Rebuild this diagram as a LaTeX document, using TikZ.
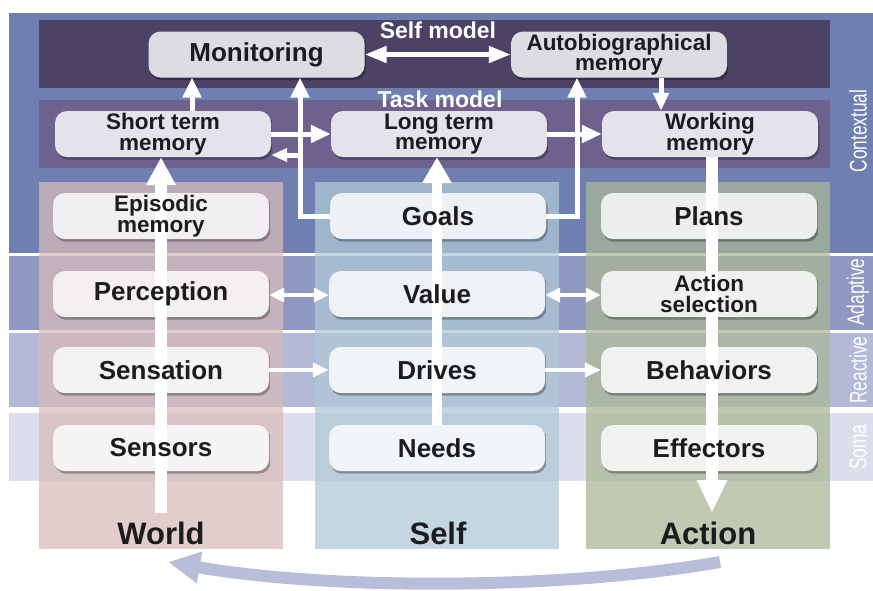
\documentclass[tikz,border=0pt]{standalone}
\usepackage{fontspec}
\setmainfont{Liberation Sans}
\usepackage{graphicx}
\usetikzlibrary{arrows.meta}
\definecolor{ctxc}{RGB}{111,127,177}
\definecolor{selfm}{RGB}{76,66,102}
\definecolor{taskm}{RGB}{109,98,142}
\definecolor{adap}{RGB}{143,152,192}
\definecolor{reac}{RGB}{180,185,215}
\definecolor{soma}{RGB}{220,223,235}
\definecolor{worldc}{RGB}{214,187,186}
\definecolor{selfc}{RGB}{175,200,213}
\definecolor{actc}{RGB}{170,183,151}
\definecolor{txt}{RGB}{28,28,30}
\definecolor{loopc}{RGB}{184,190,218}
\pgfdeclarelayer{bg}
\pgfdeclarelayer{mid}
\pgfsetlayers{bg,mid,main}
\newcommand\boxshade[1]{%
  \begin{scope}
    \clip[rounded corners=12pt] ([shift={(1.5,2.5)}]#1.south west) rectangle ([shift={(1.5,2.5)}]#1.north east);
    \fill[black,opacity=0.3,even odd rule,rounded corners=12pt]
      ([shift={(1.5,2.5)}]#1.south west) rectangle ([shift={(1.5,2.5)}]#1.north east)
      (#1.south west) rectangle (#1.north east);
  \end{scope}}
\begin{document}
\begin{tikzpicture}[x=1pt,y=-1pt,
  box/.style={rounded corners=12pt, minimum width=216pt, minimum height=46pt,
    inner sep=0pt, fill=white, fill opacity=0.82, text opacity=1, text=txt,
    font=\bfseries\fontsize{26}{26}\selectfont, align=center},
  two/.style={font=\bfseries\fontsize{22.5}{20.5}\selectfont},
  bandlabel/.style={rotate=90, text=white, font=\fontsize{24}{24}\selectfont, inner sep=0pt},
  modellabel/.style={text=white, font=\bfseries\fontsize{23}{23}\selectfont, inner sep=0pt},
  biglabel/.style={font=\bfseries\fontsize{31}{31}\selectfont, inner sep=0pt},
  wline/.style={draw=white, line width=5pt},
  thinline/.style={draw=white, line width=4pt},
]
\useasboundingbox (0,0) rectangle (873,590);
\begin{pgfonlayer}{bg}
  % bands
  \fill[ctxc] (9,13) rectangle (873,253);
  \fill[adap] (9,256) rectangle (873,330);
  \fill[reac] (9,333) rectangle (873,407);
  \fill[soma] (9,413) rectangle (873,481);
  \fill[selfm] (39,20) rectangle (830,88);
  \fill[taskm] (39,100) rectangle (830,168);
  % columns
  \fill[worldc, opacity=0.74] (39,182) rectangle (283,549);
  \fill[selfc, opacity=0.74] (315,182) rectangle (559,549);
  \fill[actc, opacity=0.74] (586,182) rectangle (830,549);
\end{pgfonlayer}

% boxes
\node[box] (mon) at (256.5,54.5) {Monitoring};
\node[box,two] (auto) at (619,54.5) {Autobiographical\\memory};
\node[box,two] (stm) at (163,134) {Short term\\memory};
\node[box,two] (ltm) at (439,134) {Long term\\memory};
\node[box,two] (wm) at (710,134) {Working\\memory};
\node[box,two] (epi) at (161,216) {Episodic\\memory};
\node[box] (goals) at (438,216) {Goals};
\node[box] (plans) at (709,216) {Plans};
\node[box] (perc) at (161,294) {Perception};
\node[box] (value) at (437,294) {Value};
\node[box,two] (asel) at (709,294) {Action\\selection};
\node[box] (sensa) at (161,370) {Sensation};
\node[box] (drives) at (437,370) {Drives};
\node[box] (behav) at (709,370) {Behaviors};
\node[box] (sensors) at (161,448) {Sensors};
\node[box] (needs) at (437,448) {Needs};
\node[box] (effect) at (709,448) {Effectors};

% free ends
\coordinate (wbot) at (161,513);
\coordinate (abot) at (712,513);
\coordinate (loopstart) at (720,562);
\coordinate (looptip) at (168,562);
\coordinate (goalup) at (300,216);
\coordinate (goalup2) at (577,216);
\coordinate (stmlow) at ([yshift=-21pt]stm.east);

\begin{pgfonlayer}{mid}
  \foreach \n in {mon,auto,stm,ltm,wm,epi,goals,plans,perc,value,asel,sensa,drives,behav,sensors,needs,effect}{\boxshade{\n}}
  % big vertical arrows
  \draw[white, line width=12pt, -{Triangle[width=28pt,length=28pt]}] (wbot) -- (wbot |- stm.south);
  \draw[white, line width=10pt, -{Triangle[width=28pt,length=26pt]}] (needs.north) -- (needs.north |- ltm.south);
  \draw[white, line width=12pt, -{Triangle[width=28pt,length=33pt]}] (wm.south -| abot) -- (abot);
  % top connectors
  \draw[wline, {Triangle[width=16pt,length=22pt]}-{Triangle[width=16pt,length=22pt]}] (mon.east) -- (auto.west);
  \draw[wline, -{Triangle[width=18pt,length=20pt]}] ([xshift=29pt]stm.north) -- ([xshift=29pt]stm.north |- mon.south);
  \draw[wline, -{Triangle[width=17pt,length=20pt]}] (stm.east) -- (ltm.west);
  \draw[wline, -{Triangle[width=17pt,length=20pt]}] (ltm.east) -- (wm.west);
  \draw[wline, line join=miter, -{Triangle[width=18pt,length=20pt]}] (goals.west) -- (goalup) -- (goalup |- mon.south);
  \draw[wline, -{Triangle[width=13pt,length=16pt]}] (goalup |- stmlow) -- (stmlow);
  \draw[wline, line join=miter, -{Triangle[width=18pt,length=20pt]}] (goals.east) -- (goalup2) -- (goalup2 |- auto.south);
  \draw[wline, -{Triangle[width=15pt,length=18pt]}] ([xshift=42pt]auto.south) -- ([xshift=42pt]auto.south |- wm.north);
  % middle connectors
  \draw[thinline, {Triangle[width=14pt,length=15pt]}-{Triangle[width=14pt,length=15pt]}] ([yshift=-1pt]perc.east) -- ([yshift=-1pt]value.west);
  \draw[thinline, {Triangle[width=14pt,length=15pt]}-{Triangle[width=14pt,length=15pt]}] ([yshift=-1pt]value.east) -- ([yshift=-1pt]asel.west);
  \draw[thinline, -{Triangle[width=14pt,length=16pt]}] (sensa.east) -- (drives.west);
  \draw[thinline, -{Triangle[width=14pt,length=16pt]}] (drives.east) -- (behav.west);
\end{pgfonlayer}

% model labels
\node[modellabel] (selfmodel) at (438,30) {Self model};
\node[modellabel] (taskmodel) at (440,99) {Task model};

% band labels
\node[bandlabel] (lctx) at (858,131) {\scalebox{0.72}[1]{Contextual}};
\node[bandlabel] (ladap) at (858,292) {\scalebox{0.72}[1]{Adaptive}};
\node[bandlabel] (lreac) at (858,370) {\scalebox{0.72}[1]{Reactive}};
\node[bandlabel] (lsoma) at (858,447) {\scalebox{0.72}[1]{Soma}};

% bottom labels
\node[biglabel, text=txt] (lworld) at (161,533) {World};
\node[biglabel, text=txt] (lself) at (438,533) {Self};
\node[biglabel, text=txt] (laction) at (708,533) {Action};

% loop arrow
\draw[loopc, line width=12pt, -{Triangle[width=30pt,length=32pt]}] (loopstart) .. controls (560,590) and (330,590) .. (looptip);
\end{tikzpicture}
\end{document}
